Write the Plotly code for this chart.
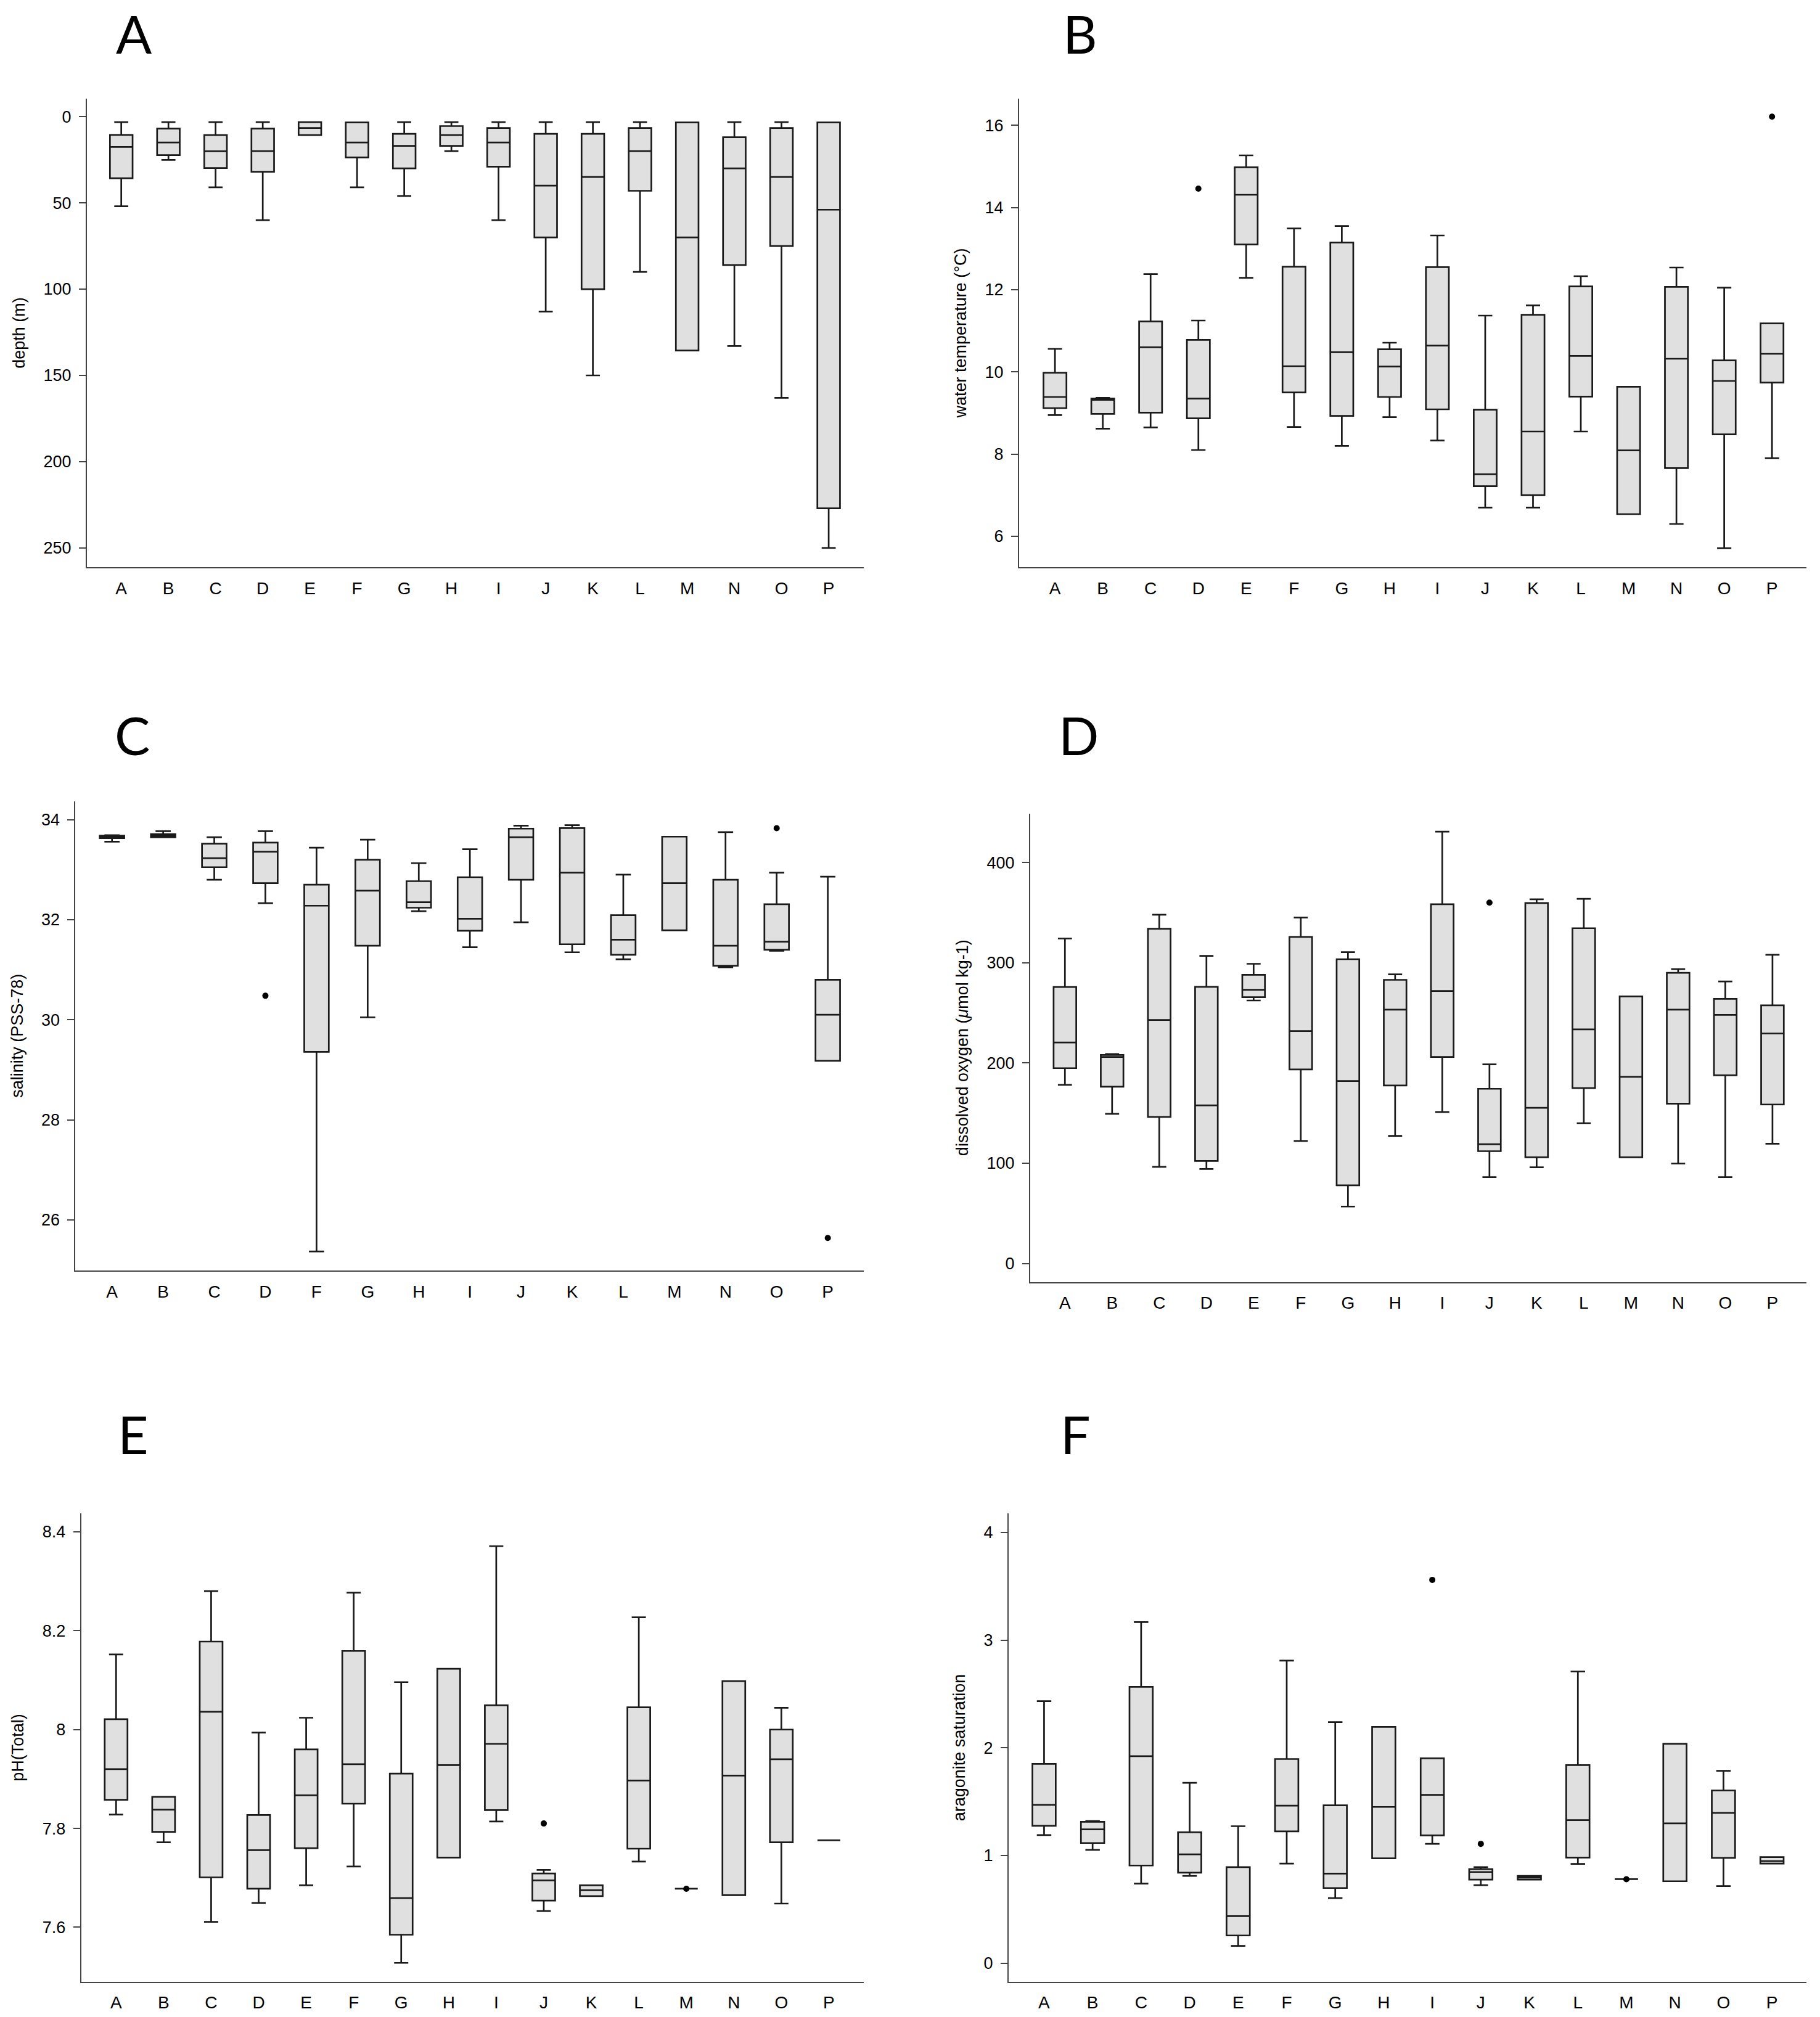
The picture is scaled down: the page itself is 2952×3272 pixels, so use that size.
import plotly.graph_objects as go

W, H = 2952, 3272

cats16 = ["A", "B", "C", "D", "E", "F", "G", "H", "I", "J", "K", "L", "M", "N", "O", "P"]
cats15 = ["A", "B", "C", "D", "F", "G", "H", "I", "J", "K", "L", "M", "N", "O", "P"]

# Panel A: depth (m)
depth_lo = [3.2, 3.2, 3.2, 3.2, 3.2, 3.4, 3.2, 3.2, 3.2, 3.2, 3.2, 3.2, 3.4, 3.2, 3.2, 3.4]
depth_q1 = [10.6, 7.0, 10.7, 7.0, 3.2, 3.4, 10.0, 5.5, 6.6, 10.0, 10.0, 6.6, 3.4, 12.0, 6.6, 3.4]
depth_med = [17.6, 15.0, 20.1, 20.0, 6.6, 15.0, 17.0, 10.7, 15.0, 40.0, 35.0, 20.0, 70.0, 30.0, 35.0, 54.0]
depth_q3 = [35.7, 22.3, 29.8, 32.0, 10.7, 23.7, 30.0, 17.0, 29.0, 70.0, 100.0, 43.0, 135.6, 86.0, 75.0, 227.0]
depth_hi = [52.0, 25.1, 41.0, 60.0, 10.7, 41.0, 46.0, 20.0, 60.0, 113.0, 150.0, 90.0, 135.6, 133.0, 163.0, 250.0]
depth_out_x, depth_out_y = [], []

# Panel B: water temperature (°C)
temp_lo = [8.95, 8.62, 8.65, 8.10, 12.29, 8.66, 8.20, 8.90, 8.33, 6.70, 6.70, 8.55, 6.54, 6.30, 5.71, 7.90]
temp_q1 = [9.12, 8.98, 9.01, 8.87, 13.10, 9.50, 8.93, 9.39, 9.09, 7.22, 7.00, 9.40, 6.54, 7.66, 8.48, 9.74]
temp_med = [9.39, 9.32, 10.60, 9.35, 14.31, 10.14, 10.48, 10.13, 10.64, 7.51, 8.55, 10.39, 8.09, 10.32, 9.78, 10.44]
temp_q3 = [9.98, 9.35, 11.23, 10.78, 14.98, 12.56, 13.15, 10.55, 12.55, 9.08, 11.39, 12.08, 9.64, 12.07, 10.28, 11.18]
temp_hi = [10.56, 9.37, 12.38, 11.25, 15.27, 13.49, 13.55, 10.71, 13.32, 11.37, 11.62, 12.33, 9.64, 12.54, 12.05, 11.18]
temp_out_x, temp_out_y = ["D", "P"], [14.46, 16.21]

# Panel C: salinity (PSS-78), no station E
sal_lo = [33.56, 33.65, 32.80, 32.33, 25.37, 30.05, 32.17, 31.45, 31.95, 31.35, 31.21, 31.79, 31.05, 31.38, 29.18]
sal_q1 = [33.63, 33.65, 33.05, 32.73, 29.36, 31.48, 32.24, 31.78, 32.80, 31.51, 31.30, 31.79, 31.08, 31.40, 29.18]
sal_med = [33.65, 33.68, 33.23, 33.36, 32.28, 32.58, 32.35, 32.02, 33.65, 32.94, 31.60, 32.73, 31.48, 31.56, 30.10]
sal_q3 = [33.68, 33.71, 33.52, 33.54, 32.70, 33.20, 32.77, 32.85, 33.82, 33.83, 32.09, 33.66, 32.80, 32.31, 30.80]
sal_hi = [33.69, 33.77, 33.65, 33.77, 33.44, 33.60, 33.13, 33.41, 33.88, 33.89, 32.90, 33.66, 33.75, 32.94, 32.86]
sal_out_x, sal_out_y = ["D", "O", "P"], [30.48, 33.83, 25.64]

# Panel D: dissolved oxygen (µmol kg-1)
oxy_lo = [178.2, 149.3, 96.4, 94.3, 262.4, 122.3, 56.8, 127.3, 151.2, 86.1, 96.0, 140.0, 105.9, 99.7, 86.1, 119.5]
oxy_q1 = [194.9, 176.4, 146.2, 102.2, 265.7, 193.6, 77.9, 177.6, 206.0, 112.0, 105.9, 175.0, 105.9, 159.4, 187.8, 158.6]
oxy_med = [220.5, 206.0, 243.0, 157.8, 273.1, 231.9, 182.0, 253.3, 271.9, 119.0, 155.3, 233.6, 186.2, 253.3, 248.0, 229.5]
oxy_q3 = [275.8, 208.0, 334.0, 276.0, 288.0, 325.8, 303.6, 283.0, 358.4, 174.3, 359.6, 334.5, 266.5, 290.0, 264.0, 257.5]
oxy_hi = [324.2, 209.0, 348.0, 306.9, 299.0, 345.2, 310.6, 288.4, 430.9, 198.6, 363.3, 363.8, 266.5, 293.7, 281.4, 308.0]
oxy_out_x, oxy_out_y = ["J"], [360.0]

# Panel E: pH(Total)
ph_lo = [7.828, 7.772, 7.611, 7.649, 7.685, 7.723, 7.528, 7.741, 7.814, 7.633, 7.663, 7.733, 7.678, 7.665, 7.648, 7.776]
ph_q1 = [7.858, 7.793, 7.701, 7.678, 7.760, 7.850, 7.585, 7.741, 7.837, 7.654, 7.663, 7.759, 7.678, 7.665, 7.772, 7.776]
ph_med = [7.920, 7.838, 8.036, 7.756, 7.867, 7.930, 7.659, 7.928, 7.971, 7.695, 7.675, 7.897, 7.678, 7.907, 7.940, 7.776]
ph_q3 = [8.021, 7.864, 8.178, 7.827, 7.960, 8.159, 7.911, 8.123, 8.049, 7.709, 7.685, 8.045, 7.678, 8.098, 8.000, 7.776]
ph_hi = [8.152, 7.864, 8.280, 7.994, 8.024, 8.277, 8.096, 8.123, 8.371, 7.716, 7.685, 8.227, 7.678, 8.098, 8.044, 7.776]
ph_out_x, ph_out_y = ["J", "M"], [7.810, 7.678]

# Panel F: aragonite saturation
arag_lo = [1.190, 1.052, 0.739, 0.810, 0.160, 0.925, 0.604, 0.974, 1.108, 0.724, 0.776, 0.922, 0.780, 0.761, 0.716, 0.925]
arag_q1 = [1.276, 1.116, 0.907, 0.840, 0.257, 1.224, 0.698, 0.974, 1.187, 0.776, 0.776, 0.981, 0.780, 0.761, 0.978, 0.925]
arag_med = [1.470, 1.243, 1.922, 1.011, 0.437, 1.463, 0.832, 1.451, 1.563, 0.847, 0.795, 1.328, 0.780, 1.299, 1.396, 0.948]
arag_q3 = [1.851, 1.313, 2.567, 1.216, 0.892, 1.896, 1.466, 2.194, 1.903, 0.873, 0.810, 1.840, 0.780, 2.037, 1.604, 0.985]
arag_hi = [2.433, 1.320, 3.168, 1.675, 1.272, 2.810, 2.239, 2.194, 1.903, 0.892, 0.810, 2.709, 0.780, 2.037, 1.787, 0.985]
arag_out_x, arag_out_y = ["I", "J", "M"], [3.56, 1.108, 0.780]

panel_letters = ["A", "B", "C", "D", "E", "F"]
y_titles = ["depth (m)", "water temperature (°C)", "salinity (PSS-78)",
            "dissolved oxygen (<i>μ</i>mol kg-1)", "pH(Total)", "aragonite saturation"]
y_ticks = [[0, 50, 100, 150, 200, 250], [6, 8, 10, 12, 14, 16], [26, 28, 30, 32, 34],
           [0, 100, 200, 300, 400], [7.6, 7.8, 8.0, 8.2, 8.4], [0, 1, 2, 3, 4]]

panels = [
    (cats16, depth_lo, depth_q1, depth_med, depth_q3, depth_hi, depth_out_x, depth_out_y),
    (cats16, temp_lo, temp_q1, temp_med, temp_q3, temp_hi, temp_out_x, temp_out_y),
    (cats15, sal_lo, sal_q1, sal_med, sal_q3, sal_hi, sal_out_x, sal_out_y),
    (cats16, oxy_lo, oxy_q1, oxy_med, oxy_q3, oxy_hi, oxy_out_x, oxy_out_y),
    (cats16, ph_lo, ph_q1, ph_med, ph_q3, ph_hi, ph_out_x, ph_out_y),
    (cats16, arag_lo, arag_q1, arag_med, arag_q3, arag_hi, arag_out_x, arag_out_y),
]

# layout geometry (pixels)
px_left = [141, 1653, 122.4, 1670.9, 131.8, 1636]
px_right = [1400.7, 2930, 1400.7, 2930, 1400.7, 2930]
px_top = [160, 160, 1299.6, 1319.6, 2455.3, 2455.3]
px_bottom = [920, 920, 2061, 2079.7, 3214.7, 3214.7]
x_ranges = [[-0.728, 15.74], [-0.75, 15.72], [-0.715, 14.70], [-0.737, 15.72], [-0.733, 15.73], [-0.73, 15.71]]
y_ranges = [[261.1, -10.4], [5.25, 16.65], [24.99, 34.37], [-18.5, 449], [7.490, 8.437], [-0.172, 4.176]]
letter_pos = [(217, None), (1752, None), (215, 1192), (1749, 1192), (216, 2325), (1744, 2325)]

FONT = "Liberation Sans, Arial, Helvetica, sans-serif"
AXC = "#444444"
BOXLINE = "#1a1a1a"

fig = go.Figure()
layout = dict(
    width=W, height=H,
    margin=dict(l=0, r=0, t=0, b=0),
    paper_bgcolor="white", plot_bgcolor="white",
    showlegend=False,
    font=dict(family=FONT, color="black"),
    annotations=[],
)

for i, (cats, lo, q1, med, q3, hi, ox, oy) in enumerate(panels):
    n = i + 1
    xa = "x" if n == 1 else f"x{n}"
    ya = "y" if n == 1 else f"y{n}"
    fig.add_trace(go.Box(
        x=cats, q1=q1, median=med, q3=q3, lowerfence=lo, upperfence=hi,
        width=0.48, whiskerwidth=0.62, boxpoints=False,
        fillcolor="#e0e0e0", line=dict(color=BOXLINE, width=2.7),
        xaxis=xa, yaxis=ya, hoverinfo="skip",
    ))
    if ox:
        fig.add_trace(go.Scatter(
            x=ox, y=oy, mode="markers",
            marker=dict(color="black", size=10),
            xaxis=xa, yaxis=ya, hoverinfo="skip",
        ))
    xkey = "xaxis" if n == 1 else f"xaxis{n}"
    ykey = "yaxis" if n == 1 else f"yaxis{n}"
    layout[xkey] = dict(
        domain=[px_left[i] / W, px_right[i] / W],
        anchor=ya, type="category", categoryorder="array", categoryarray=cats,
        range=x_ranges[i], showline=True, linecolor=AXC, linewidth=2,
        ticks="", showgrid=False, zeroline=False,
        tickfont=dict(size=28, family=FONT, color="black"),
        ticklabelstandoff=8, fixedrange=True,
    )
    layout[ykey] = dict(
        domain=[1 - px_bottom[i] / H, 1 - px_top[i] / H],
        anchor=xa, range=y_ranges[i], tickvals=y_ticks[i],
        showline=True, linecolor=AXC, linewidth=2,
        ticks="outside", ticklen=11, tickwidth=2, tickcolor=AXC,
        showgrid=False, zeroline=False,
        tickfont=dict(size=27, family=FONT, color="black"),
        ticklabelstandoff=7,
        title=dict(text=y_titles[i], font=dict(size=27, family=FONT, color="black"), standoff=22),
        fixedrange=True,
    )
    lx, ly = letter_pos[i]
    if ly is None:
        ann = dict(x=lx / W, y=1.0, yanchor="top")
    else:
        ann = dict(x=lx / W, y=1 - ly / H, yanchor="middle")
    ann.update(dict(
        text=panel_letters[i], xref="paper", yref="paper", xanchor="center",
        showarrow=False, font=dict(family="Lato, Open Sans, sans-serif", size=86, color="black"),
    ))
    layout["annotations"].append(ann)

fig.update_layout(**layout)
fig.write_html(
    "out.html",
    config={"displayModeBar": False},
    post_script="document.body.style.margin='0';document.body.style.padding='0';document.body.style.overflow='hidden';",
)
